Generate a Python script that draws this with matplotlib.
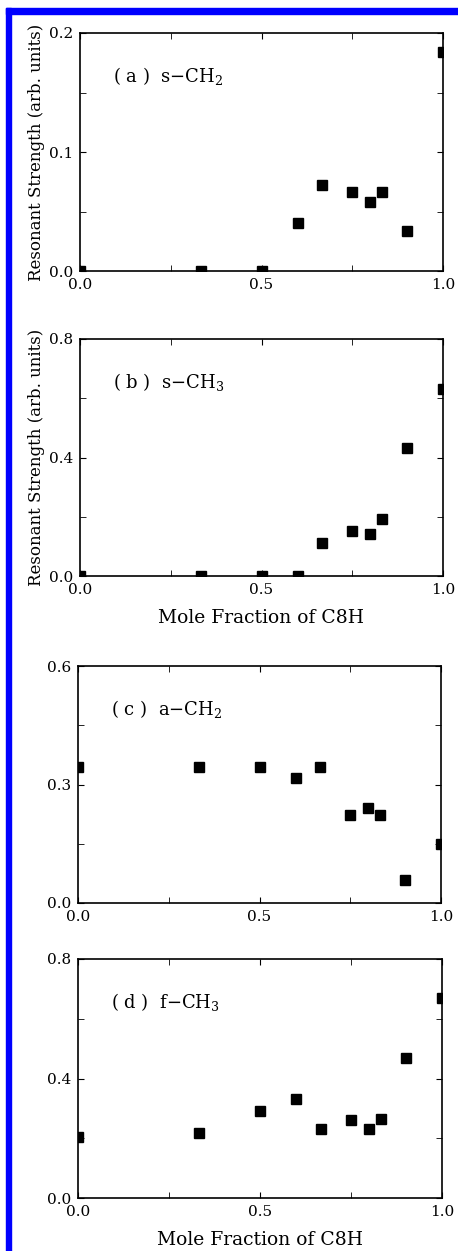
import numpy as np
import matplotlib
matplotlib.use('Agg')
import matplotlib.pyplot as plt
from matplotlib.patches import Rectangle
from matplotlib.ticker import MultipleLocator

plt.rcParams['font.family'] = 'DejaVu Serif'
plt.rcParams['mathtext.fontset'] = 'dejavuserif'

# mole fraction of C8H
mole_frac = [0.0, 0.333, 0.5, 0.6, 0.667, 0.75, 0.8, 0.833, 0.9, 1.0]

# resonant strengths (arb. units)
s_ch2 = [0.0, 0.0, 0.0, 0.040, 0.0725, 0.066, 0.058, 0.066, 0.034, 0.184]
s_ch3 = [0.0, 0.0, 0.0, 0.0, 0.113, 0.152, 0.143, 0.193, 0.433, 0.631]
a_ch2 = [0.344, 0.344, 0.344, 0.317, 0.344, 0.222, 0.240, 0.222, 0.059, 0.150]
f_ch3 = [0.203, 0.219, 0.292, 0.333, 0.232, 0.262, 0.232, 0.263, 0.470, 0.669]

labels = ['( a )  s$-$CH$_2$', '( b )  s$-$CH$_3$', '( c )  a$-$CH$_2$', '( d )  f$-$CH$_3$']
ymax = [0.2, 0.8, 0.6, 0.8]
series = [s_ch2, s_ch3, a_ch2, f_ch3]

W, H = 458, 1251
fig = plt.figure(figsize=(W / 100, H / 100), dpi=100)

# axes boxes in pixels: left, top, right, bottom
boxes = [(80, 33, 443, 271), (80, 339, 443, 576), (78, 666, 441, 903), (78, 959, 442, 1198)]

for i, (l, t, r, b) in enumerate(boxes):
    ax = fig.add_axes([l / W, 1 - b / H, (r - l) / W, (b - t) / H])
    ax.plot(mole_frac, series[i], 's', color='black', markersize=7)
    ax.set_xlim(0, 1)
    ax.set_ylim(0, ymax[i])
    ax.xaxis.set_major_locator(MultipleLocator(0.5))
    ax.xaxis.set_minor_locator(MultipleLocator(0.25))
    ax.yaxis.set_major_locator(MultipleLocator(ymax[i] / 2))
    ax.yaxis.set_minor_locator(MultipleLocator(ymax[i] / 4))
    ax.xaxis.set_major_formatter(plt.FormatStrFormatter('%.1f'))
    ax.yaxis.set_major_formatter(plt.FormatStrFormatter('%.1f'))
    ax.tick_params(which='both', direction='in', top=True, right=True, labelsize=11, pad=5)
    ax.tick_params(which='major', length=4)
    ax.tick_params(which='minor', length=4)
    for sp in ax.spines.values():
        sp.set_linewidth(1.2)
    ax.text(0.09, 0.82, labels[i], transform=ax.transAxes, fontsize=13, va='center')
    if i < 2:
        ax.set_ylabel('Resonant Strength (arb. units)', fontsize=12, labelpad=3)
    if i in (1, 3):
        ax.set_xlabel('Mole Fraction of C8H', fontsize=13.5, labelpad=9)

# blue frame on the left and top
fig.patches.append(Rectangle((6 / W, 0), 5 / W, 1 - 8 / H, transform=fig.transFigure,
                             color='#0000ff', zorder=10))
fig.patches.append(Rectangle((6 / W, 1 - 14 / H), 1 - 6 / W, 6 / H, transform=fig.transFigure,
                             color='#0000ff', zorder=10))

fig.savefig('out.png', dpi=100)
